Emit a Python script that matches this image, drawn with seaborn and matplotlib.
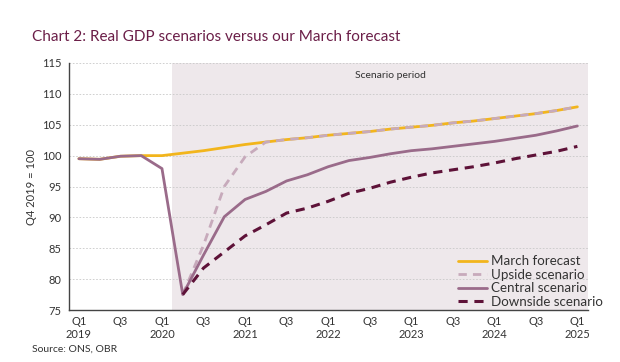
import numpy as np
import pandas as pd
import matplotlib
matplotlib.use("Agg")
import matplotlib.pyplot as plt
import seaborn as sns

quarters = ["Q1 2019", "Q2 2019", "Q3 2019", "Q4 2019",
            "Q1 2020", "Q2 2020", "Q3 2020", "Q4 2020",
            "Q1 2021", "Q2 2021", "Q3 2021", "Q4 2021",
            "Q1 2022", "Q2 2022", "Q3 2022", "Q4 2022",
            "Q1 2023", "Q2 2023", "Q3 2023", "Q4 2023",
            "Q1 2024", "Q2 2024", "Q3 2024", "Q4 2024",
            "Q1 2025"]

march_forecast = [99.5, 99.4, 99.9, 100.0,
                  100.0, 100.4, 100.8, 101.3,
                  101.8, 102.2, 102.6, 102.9,
                  103.3, 103.6, 103.9, 104.3,
                  104.6, 104.9, 105.3, 105.6,
                  106.0, 106.4, 106.8, 107.3,
                  107.9]
upside = [np.nan, np.nan, np.nan, np.nan,
          np.nan, 77.5, 85.5, 95.0,
          99.8, 102.2, 102.6, 102.9,
          103.3, 103.6, 103.9, 104.3,
          104.6, 104.9, 105.3, 105.6,
          106.0, 106.4, 106.8, 107.3,
          107.9]
central = [99.5, 99.4, 99.9, 100.0,
           97.9, 77.5, 83.9, 90.1,
           92.9, 94.2, 95.9, 96.9,
           98.2, 99.2, 99.7, 100.3,
           100.8, 101.1, 101.5, 101.9,
           102.3, 102.8, 103.3, 104.0,
           104.8]
downside = [np.nan, np.nan, np.nan, np.nan,
            np.nan, 77.5, 81.8, 84.4,
            87.0, 88.8, 90.7, 91.5,
            92.6, 93.9, 94.7, 95.7,
            96.5, 97.2, 97.7, 98.2,
            98.8, 99.5, 100.1, 100.7,
            101.5]

series_names = ["March forecast", "Upside scenario", "Central scenario", "Downside scenario"]
y_ticks = [75, 80, 85, 90, 95, 100, 105, 110, 115]
x_labels = ["Q1\n2019", "Q3", "Q1\n2020", "Q3", "Q1\n2021", "Q3", "Q1\n2022", "Q3",
            "Q1\n2023", "Q3", "Q1\n2024", "Q3", "Q1\n2025"]

sns.set_theme(style="white")
plt.rcParams['font.family'] = ['Lato', 'DejaVu Sans']

idx = np.arange(len(quarters))
df = pd.DataFrame({"x": np.tile(idx, 4),
                   "value": march_forecast + upside + central + downside,
                   "series": np.repeat(series_names, len(quarters))})

fig = plt.figure(figsize=(6.2, 3.62), dpi=100)
ax = fig.add_axes([0.1105, 0.1436, 0.8375, 0.6824])

ax.axvspan(4.5, 24.5, color="#EEE8EB", zorder=0, lw=0)

styles = {
    "March forecast": dict(color="#F2B51C", lw=2.0, dashes=None),
    "Upside scenario": dict(color="#C7AABB", lw=2.0, dashes=(3, 2.2)),
    "Central scenario": dict(color="#9A6B8A", lw=2.0, dashes=None),
    "Downside scenario": dict(color="#5E1238", lw=2.2, dashes=(3, 2.2)),
}
for name in series_names:
    st = styles[name]
    sub = df[df["series"] == name].dropna()
    sns.lineplot(data=sub, x="x", y="value", ax=ax, color=st["color"],
                 lw=st["lw"], label=name, zorder=3)
    l = ax.get_lines()[-1]
    if st["dashes"]:
        l.set_dashes(st["dashes"])

ax.set_xlim(-0.5, 24.5)
ax.set_ylim(75, 115)
ax.set_yticks(y_ticks)
ax.set_yticklabels([str(t) for t in y_ticks], fontsize=8, color="#333333")
ax.set_xticks(np.arange(0, 25, 2))
ax.set_xticklabels(x_labels, fontsize=8, color="#333333", linespacing=1.25)
ax.set_xticks(np.arange(-0.5, 25, 1), minor=True)
ax.tick_params(axis="x", which="major", length=0, pad=4)
ax.tick_params(axis="x", which="minor", length=3, width=0.8, color="#444444", direction="out")
ax.tick_params(axis="y", which="major", length=3, width=0.8, color="#444444", direction="out", pad=2)
ax.set_xlabel("")
ax.set_ylabel("Q4 2019 = 100", fontsize=8, color="#333333", labelpad=4)

for t in y_ticks[1:]:
    ax.axhline(t, color="#C8C8C8", lw=0.6, ls=(0, (2, 2)), zorder=1)

for s in ["top", "right"]:
    ax.spines[s].set_visible(False)
for s in ["left", "bottom"]:
    ax.spines[s].set_color("#444444")
    ax.spines[s].set_linewidth(1.0)

ax.text(15.0, 113.0, "Scenario period", fontsize=7.5, color="#333333", ha="center", va="center")

handles, labels = ax.get_legend_handles_labels()
if ax.get_legend() is not None:
    ax.get_legend().remove()
for h, name in zip(handles, labels):
    st = styles[name]
    if st["dashes"]:
        h.set_dashes(st["dashes"])
leg = fig.legend(handles, labels, loc="lower right", frameon=False, fontsize=9.6,
                 handlelength=2.2, handletextpad=0.3, labelspacing=0.12,
                 borderaxespad=0.0, borderpad=0.0,
                 bbox_to_anchor=(603/620, 1 - 308/362))
for t in leg.get_texts():
    t.set_color("#333333")

fig.text(32/620, 1 - 37/362, "Chart 2: Real GDP scenarios versus our March forecast",
         fontsize=11, color="#6B1E48", ha="left", va="center")
fig.text(32/620, 1 - 349/362, "Source: ONS, OBR", fontsize=7.5, color="#333333",
         ha="left", va="center")

fig.savefig("out.png", dpi=100)
